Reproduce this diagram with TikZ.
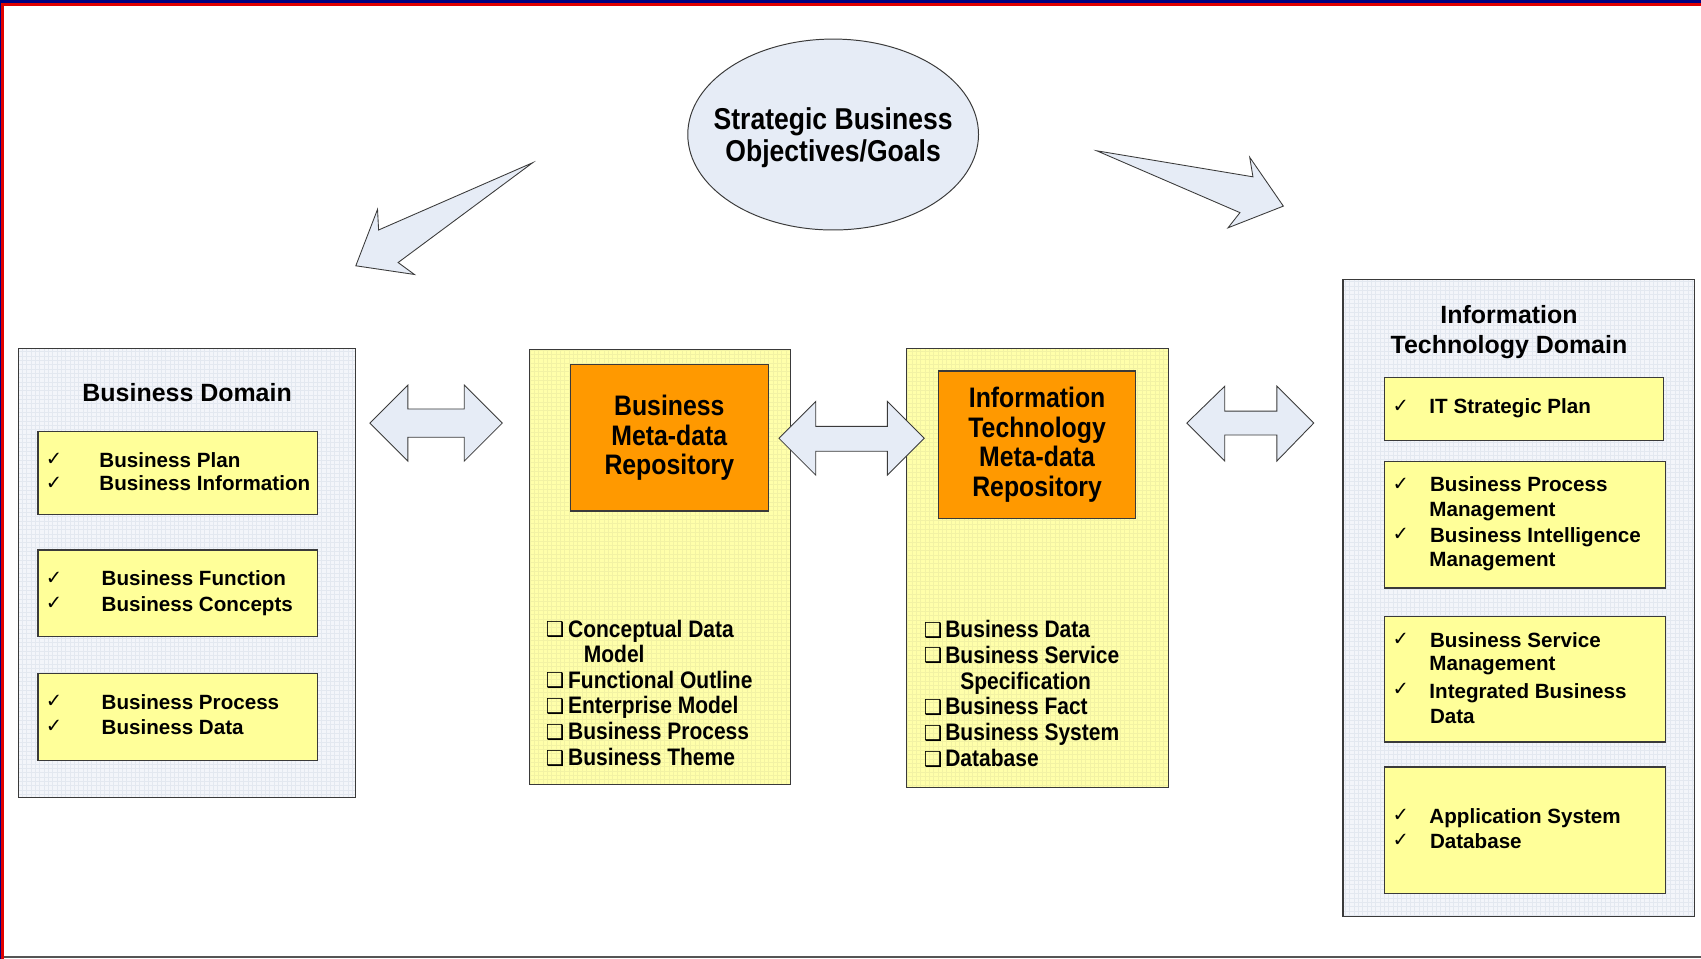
\documentclass[tikz,border=0pt]{standalone}
\usepackage{fontspec}
\setmainfont{Liberation Sans}
\newfontfamily\nar{Liberation Sans}[FakeStretch=0.88]
\newfontfamily\djv{DejaVu Sans}
\usetikzlibrary{shapes.geometric}
\definecolor{bluefill}{HTML}{E6ECF6}
\definecolor{grayfill}{HTML}{F3F5FA}
\definecolor{graygrid}{HTML}{E3E8F0}
\definecolor{yel}{HTML}{FFFF99}
\definecolor{yelout}{HTML}{FFFFAA}
\definecolor{yelgrid}{HTML}{F2F2A4}
\definecolor{orng}{HTML}{FF9900}
\definecolor{edge}{HTML}{3A3A3A}
\definecolor{navyb}{HTML}{000080}
\definecolor{redb}{HTML}{E00000}
\definecolor{botline}{HTML}{555555}
\tikzset{
  rbox/.style={draw=edge, line width=1pt, anchor=north west, inner sep=0pt, outer sep=0pt},
  graybox/.style={rbox, fill=grayfill, path picture={\draw[graygrid, line width=0.35pt, step=4pt] (path picture bounding box.south west) grid (path picture bounding box.north east);}},
  yelbox/.style={rbox, fill=yelout, path picture={\draw[yelgrid, line width=0.35pt, step=4pt] (path picture bounding box.south west) grid (path picture bounding box.north east);}},
  subbox/.style={rbox, fill=yel},
  orbox/.style={rbox, fill=orng, align=center, font=\fontsize{26}{27.5}\nar\bfseries},
  blockarrow/.style={draw=edge, line width=0.8pt, fill=bluefill, line join=miter},
  chk/.style={anchor=base west, inner sep=0pt, font=\fontsize{18}{18}\djv},
  itm/.style={anchor=base west, inner sep=0pt, font=\fontsize{19}{23}\selectfont\bfseries},
  cbx/.style={anchor=base west, inner sep=0pt, font=\fontsize{19}{19}\djv},
  ntm/.style={anchor=base west, inner sep=0pt, font=\fontsize{22}{24}\nar\bfseries},
  ttl/.style={anchor=base, inner sep=0pt, font=\fontsize{23}{28}\selectfont\bfseries},
}
\begin{document}
\begin{tikzpicture}[x=1pt,y=-1pt]
\useasboundingbox (0,0) rectangle (1568,884);
% frame
\fill[white] (0,0) rectangle (1568,884);
\fill[navyb] (0,0) rectangle (1568,2.8);
\fill[redb] (0,2.8) rectangle (1568,5.5);
\fill[navyb] (0,0) rectangle (1.3,884);
\fill[redb] (1.3,2.8) rectangle (3.4,884);
\fill[botline] (3.4,881) rectangle (1568,883.2);

% goal ellipse
\node[ellipse, draw=edge, line width=0.9pt, fill=bluefill, minimum width=268pt, minimum height=176pt,
      inner sep=0pt] (goal) at (768,124) {};
\node[align=center, inner sep=0pt, font=\fontsize{27.8}{30}\nar\bfseries] (goalt) at ([yshift=-3pt]goal.center)
      {Strategic Business\\Objectives/Goals};

% curved block arrows from goal
\draw[blockarrow] (491,150) -- (349,212) -- (348,193) -- (328,245) -- (382,253) -- (367,242) -- cycle;
\draw[blockarrow] (1011,139) -- (1155,163) -- (1152,145) -- (1183,190) -- (1132,210) -- (1143,196) -- cycle;

% Business Domain
\node[graybox, minimum width=311pt, minimum height=414pt] (bdom) at (17,321) {};
\node[ttl] (bdomt) at (172.5,370.5) {Business Domain};
\node[subbox, minimum width=258pt, minimum height=76pt] (b1) at (35,398) {};
\node[subbox, minimum width=258pt, minimum height=80pt] (b2) at (35,507) {};
\node[subbox, minimum width=258pt, minimum height=80pt] (b3) at (35,621) {};
\node[chk] (b1c1) at (42,429) {✓};
\node[chk] (b1c2) at (42,451) {✓};
\node[itm] (b1t1) at (91.5,430.5) {Business Plan};
\node[itm] (b1t2) at (91.5,452.5) {Business Information};
\node[chk] (b2c1) at (42,538.5) {✓};
\node[chk] (b2c2) at (42,562) {✓};
\node[itm] (b2t1) at (93.5,540) {Business Function};
\node[itm] (b2t2) at (93.5,563.5) {Business Concepts};
\node[chk] (b3c1) at (42,652.5) {✓};
\node[chk] (b3c2) at (42,675.5) {✓};
\node[itm] (b3t1) at (93.5,654) {Business Process};
\node[itm] (b3t2) at (93.5,677) {Business Data};

% Business Meta-data Repository
\node[yelbox, minimum width=241pt, minimum height=401pt] (bmr) at (488,322) {};
\node[orbox, minimum width=182pt, minimum height=135pt] (bmro) at (526,336) {Business\\Meta-data\\Repository};
\node[cbx] (bmrq1) at (503,587) {❑};
\node[ntm] (bmrt1) at (523.5,587.5) {Conceptual Data};
\node[ntm] (bmrt1b) at (538,611) {Model};
\node[cbx] (bmrq2) at (503,634) {❑};
\node[ntm] (bmrt2) at (523.5,634.5) {Functional Outline};
\node[cbx] (bmrq3) at (503,657.5) {❑};
\node[ntm] (bmrt3) at (523.5,658) {Enterprise Model};
\node[cbx] (bmrq4) at (503,681.5) {❑};
\node[ntm] (bmrt4) at (523.5,682) {Business Process};
\node[cbx] (bmrq5) at (503,705.5) {❑};
\node[ntm] (bmrt5) at (523.5,706) {Business Theme};

% IT Meta-data Repository
\node[yelbox, minimum width=241pt, minimum height=405pt] (itmr) at (836,321) {};
\node[orbox, minimum width=182pt, minimum height=136pt] (itmro) at (865,342) {Information\\Technology\\Meta-data\\Repository};
\node[cbx] (itq1) at (851.5,587.5) {❑};
\node[ntm] (itt1) at (871.2,588) {Business Data};
\node[cbx] (itq2) at (851.5,611) {❑};
\node[ntm] (itt2) at (871.2,611.7) {Business Service};
\node[ntm] (itt2b) at (885,636) {Specification};
\node[cbx] (itq3) at (851.5,658.5) {❑};
\node[ntm] (itt3) at (871.2,659) {Business Fact};
\node[cbx] (itq4) at (851.5,682.5) {❑};
\node[ntm] (itt4) at (871.2,683) {Business System};
\node[cbx] (itq5) at (851.5,706.5) {❑};
\node[ntm] (itt5) at (871.2,707) {Database};

% Information Technology Domain
\node[graybox, minimum width=324pt, minimum height=587pt] (itdom) at (1238,258) {};
\node[ttl] (itdomt1) at (1391,298) {Information};
\node[ttl] (itdomt2) at (1391,325.5) {Technology Domain};
\node[subbox, minimum width=257pt, minimum height=58pt] (i1) at (1276,348) {};
\node[subbox, minimum width=259pt, minimum height=117pt] (i2) at (1276,425) {};
\node[subbox, minimum width=259pt, minimum height=116pt] (i3) at (1276,568) {};
\node[subbox, minimum width=259pt, minimum height=117pt] (i4) at (1276,707) {};
\node[chk] (i1c1) at (1283.5,380) {✓};
\node[itm] (i1t1) at (1317.5,381) {IT Strategic Plan};
\node[chk] (i2c1) at (1283.5,452) {✓};
\node[itm] (i2t1) at (1318,453.5) {Business Process};
\node[itm] (i2t2) at (1317.5,476.5) {Management};
\node[chk] (i2c2) at (1283.5,498) {✓};
\node[itm] (i2t3) at (1318,500.5) {Business Intelligence};
\node[itm] (i2t4) at (1317.5,522.5) {Management};
\node[chk] (i3c1) at (1283.5,595) {✓};
\node[itm] (i3t1) at (1318,596.5) {Business Service};
\node[itm] (i3t2) at (1317.5,618.5) {Management};
\node[chk] (i3c2) at (1283.5,641.5) {✓};
\node[itm] (i3t3) at (1317.5,643.5) {Integrated Business};
\node[itm] (i3t4) at (1318,666.5) {Data};
\node[chk] (i4c1) at (1283.5,757.5) {✓};
\node[itm] (i4t1) at (1317.5,759) {Application System};
\node[chk] (i4c2) at (1283.5,780.5) {✓};
\node[itm] (i4t2) at (1318,782) {Database};

% double block arrows between the boxes
\draw[blockarrow] (341,390) -- (376,355) -- (376,377) -- (428,377) -- (428,355) -- (463,390)
   -- (428,425) -- (428,403) -- (376,403) -- (376,425) -- cycle;
\draw[blockarrow] (718,404) -- (752,370) -- (752,393) -- (818,393) -- (818,370) -- (852,404)
   -- (818,438) -- (818,416) -- (752,416) -- (752,438) -- cycle;
\draw[blockarrow] (1094,390) -- (1129,356) -- (1129,379) -- (1177,379) -- (1177,356) -- (1211,390)
   -- (1177,425) -- (1177,401) -- (1129,401) -- (1129,425) -- cycle;
\end{tikzpicture}
\end{document}
